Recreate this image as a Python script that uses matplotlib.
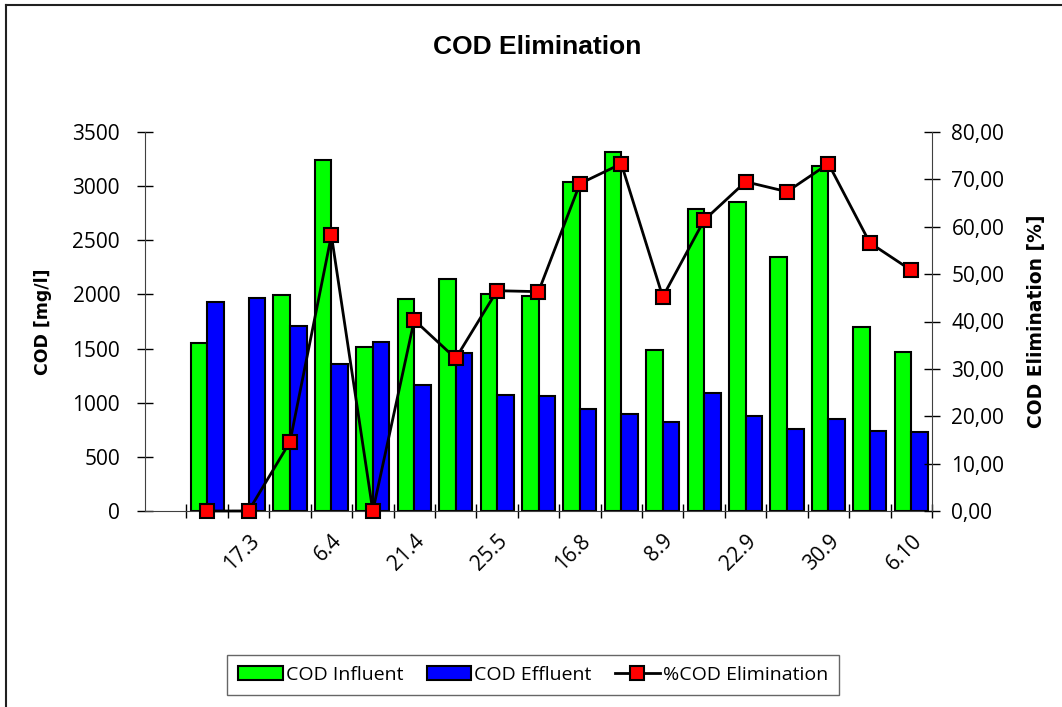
import numpy as np
import matplotlib
matplotlib.use("Agg")
import matplotlib.pyplot as plt
from matplotlib.lines import Line2D

# sampling dates (first slot empty, labels shown on every 2nd category)
labels = ["", "", "17.3", "", "6.4", "", "21.4", "", "25.5", "",
          "16.8", "", "8.9", "", "22.9", "", "30.9", "", "6.10"]
cod_in = [np.nan, 1548, 0, 1997, 3244, 1517, 1955, 2145, 2004, 1985,
          3041, 3315, 1490, 2789, 2851, 2345, 3183, 1702, 1471]
cod_out = [np.nan, 1933, 1964, 1711, 1357, 1563, 1166, 1459, 1071, 1062,
           945, 893, 822, 1087, 874, 760, 852, 741, 729]
elim = [np.nan, 0, 0, 14.6, 58.2, 0, 40.3, 32.2, 46.5, 46.3,
        69.1, 73.3, 45.2, 61.4, 69.5, 67.4, 73.3, 56.6, 50.8]

tick_font = "Open Sans"
label_font = "DejaVu Sans"
title_font = "Liberation Sans"

W, H = 1062, 707
fig = plt.figure(figsize=(W / 100, H / 100), dpi=100)
# chart border (only top and left edges are visible in the picture)
fig.add_artist(Line2D([6 / W, 1], [1 - 5 / H, 1 - 5 / H], transform=fig.transFigure,
                      color="#202020", linewidth=1.5))
fig.add_artist(Line2D([6 / W, 6 / W], [0, 1 - 5 / H], transform=fig.transFigure,
                      color="#202020", linewidth=1.5))

ax = fig.add_axes([145 / W, 1 - 511 / H, (932 - 145) / W, (511 - 132) / H])
x = np.arange(len(labels))
w = 0.4
ax.bar(x - w / 2, cod_in, w, color="#00ff00", edgecolor="black", linewidth=1.5,
       label="COD Influent", zorder=2)
ax.bar(x + w / 2, cod_out, w, color="#0000ff", edgecolor="black", linewidth=1.5,
       label="COD Effluent", zorder=2)
ax.set_ylim(0, 3500)
ax.set_yticks(range(0, 3501, 500))
ax.set_xlim(-0.5, len(labels) - 0.5)

# ticks at category boundaries, labels at centres
ax.set_xticks(np.arange(0.5, len(labels), 1.0))
ax.set_xticklabels([])
ax.set_xticks(x, minor=True)
ax.set_xticklabels(labels, minor=True, rotation=45, ha="right",
                   rotation_mode="anchor", fontsize=15, family=tick_font)
ax.tick_params(axis="x", which="minor", length=0, pad=14)
ax.tick_params(axis="x", which="major", direction="inout", length=10, width=1)
ax.tick_params(axis="y", direction="inout", length=12, width=1, labelsize=15, pad=12)
for t in ax.get_yticklabels():
    t.set_family(tick_font)
ax.spines["top"].set_visible(False)
ax.spines["right"].set_visible(False)
for s in ["left", "bottom"]:
    ax.spines[s].set_color("#404040")
ax.set_ylabel("COD [mg/l]", fontsize=12.5, fontweight="bold", family=label_font)
ax.yaxis.set_label_coords(-(145 - 52) / (932 - 145), 0.5)

ax2 = ax.twinx()
ax2.plot(x, elim, color="black", linewidth=2, marker="s", markersize=10.5,
         markerfacecolor="#ff0000", markeredgecolor="black", markeredgewidth=1.5,
         label="%COD Elimination", zorder=3, clip_on=False)
ax2.set_ylim(0, 80)
ax2.set_yticks(range(0, 81, 10))
ax2.set_yticklabels([f"{v},00" for v in range(0, 81, 10)], fontsize=15, family=tick_font)
ax2.tick_params(axis="y", direction="inout", length=12, width=1, pad=8)
ax2.spines["top"].set_visible(False)
ax2.spines["left"].set_visible(False)
ax2.spines["bottom"].set_visible(False)
ax2.spines["right"].set_color("#404040")
ax2.set_ylabel("COD Elimination [%]", fontsize=13.5, fontweight="bold", family=label_font)
ax2.yaxis.set_label_coords(1 + (1027 - 932) / (932 - 145), 0.5)

fig.text(537 / W, 1 - 47 / H, "COD Elimination", ha="center", va="center",
         fontsize=19, fontweight="bold", family=title_font)

h1, l1 = ax.get_legend_handles_labels()
h2, l2 = ax2.get_legend_handles_labels()
leg = fig.legend(h1 + h2, l1 + l2, loc="center", bbox_to_anchor=(533 / W, 1 - 675 / H),
                 ncol=3, frameon=True, fancybox=False, edgecolor="#404040",
                 prop={"family": tick_font, "size": 14},
                 handlelength=2.3, handletextpad=0.15, columnspacing=1.2,
                 borderpad=0.55)
leg.get_frame().set_linewidth(1)

fig.savefig("out.png", dpi=100)
